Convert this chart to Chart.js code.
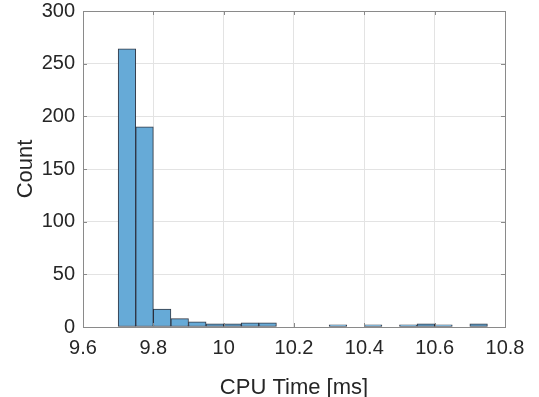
<!DOCTYPE html>
<html>
<head>
<meta charset="utf-8">
<script src="https://cdn.jsdelivr.net/npm/chart.js@4/dist/chart.umd.min.js"></script>
<style>
html,body{margin:0;padding:0;background:#fff;}
#wrap{width:539px;height:397px;position:relative;}
</style>
</head>
<body>
<div id="wrap"><canvas id="c" width="539" height="397"></canvas></div>
<script>
// Histogram bin centres (bin width 0.05 ms)
const binCenters = [9.725, 9.775, 9.825, 9.875, 9.925, 9.975, 10.025, 10.075, 10.125, 10.175,
                    10.225, 10.275, 10.325, 10.375, 10.425, 10.475, 10.525, 10.575, 10.625, 10.675, 10.725];
const counts     = [264, 190, 17, 8, 5, 3, 3, 4, 4, 0,
                    0, 0, 2, 0, 2, 0, 2, 3, 2, 0, 3];
const xTickValues = [9.6, 9.8, 10, 10.2, 10.4, 10.6, 10.8];
const yTickValues = [0, 50, 100, 150, 200, 250, 300];
const xLabel = 'CPU Time [ms]';
const yLabel = 'Count';

const FONT = "'Liberation Sans', Arial, Helvetica, sans-serif";
const TXT = '#262626';
const GRID = '#e3e3e3';
const AXIS = '#8a8a8a';

const boxPlugin = {
  id: 'box',
  afterDatasetsDraw(chart) {
    const {ctx, chartArea: a, scales} = chart;
    ctx.save();
    ctx.strokeStyle = AXIS;
    ctx.lineWidth = 1;
    ctx.beginPath();
    xTickValues.forEach(v => {
      const px = Math.round(scales.x.getPixelForValue(v)) + 0.5;
      ctx.moveTo(px, a.bottom); ctx.lineTo(px, a.bottom - 4);
      ctx.moveTo(px, a.top); ctx.lineTo(px, a.top + 4);
    });
    yTickValues.forEach(v => {
      const py = Math.round(scales.y.getPixelForValue(v)) + 0.5;
      ctx.moveTo(a.left, py); ctx.lineTo(a.left + 4, py);
      ctx.moveTo(a.right, py); ctx.lineTo(a.right - 4, py);
    });
    ctx.stroke();
    ctx.strokeRect(Math.round(a.left) + 0.5, Math.round(a.top) + 0.5,
                   Math.round(a.right - a.left), Math.round(a.bottom - a.top));
    ctx.restore();
  }
};

new Chart(document.getElementById('c'), {
  type: 'bar',
  data: {
    datasets: [{
      data: binCenters.map((x, i) => ({x: x, y: counts[i]})),
      backgroundColor: 'rgb(102,170,215)',
      borderColor: 'rgba(30,35,50,0.9)',
      borderWidth: 1,
      borderSkipped: false,
      barPercentage: 1,
      categoryPercentage: 1,
      grouped: false
    }]
  },
  options: {
    responsive: false,
    animation: false,
    devicePixelRatio: 1,
    layout: {padding: {left: 0, right: 34, top: 0, bottom: 0}},
    plugins: {legend: {display: false}, tooltip: {enabled: false}},
    scales: {
      x: {
        type: 'linear',
        min: 9.6, max: 10.8,
        offset: false,
        afterBuildTicks: s => { s.ticks = xTickValues.map(v => ({value: v})); },
        afterFit: s => { s.height = 70; },
        grid: {color: GRID, drawTicks: false, offset: false},
        border: {color: AXIS},
        ticks: {
          color: TXT, padding: 9, maxRotation: 0, autoSkip: false,
          font: {family: FONT, size: 20},
          callback: v => String(Number(v.toFixed(1)))
        },
        title: {display: true, text: xLabel, color: TXT,
                font: {family: FONT, size: 22, lineHeight: 0.86}, padding: {top: 0, bottom: 0}}
      },
      y: {
        min: 0, max: 300,
        afterBuildTicks: s => { s.ticks = yTickValues.map(v => ({value: v})); },
        afterFit: s => { s.width = 83; s.paddingTop = 11; },
        grid: {color: GRID, drawTicks: false},
        border: {color: AXIS},
        ticks: {color: TXT, padding: 8, font: {family: FONT, size: 20, lineHeight: 1.1}},
        title: {display: true, text: yLabel, color: TXT,
                font: {family: FONT, size: 22, lineHeight: 1}, padding: {top: 15, bottom: 0}}
      }
    }
  },
  plugins: [boxPlugin]
});
</script>
</body>
</html>
